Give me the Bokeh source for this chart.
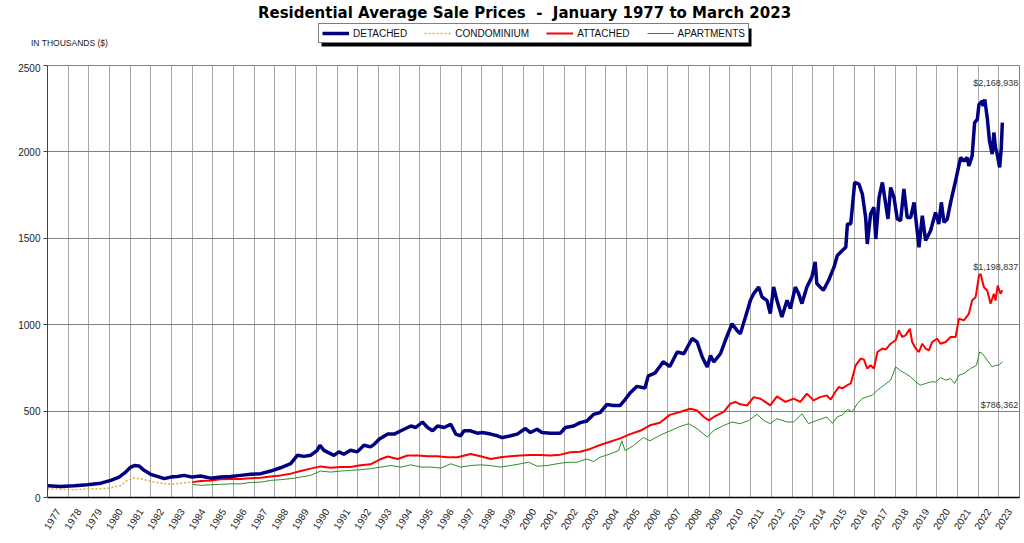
from bokeh.plotting import figure
from bokeh.layouts import column
from bokeh.models import FixedTicker, Label, Legend, LegendItem, BoxAnnotation, Range1d
from bokeh.embed import file_html
from bokeh.resources import INLINE

# values, in thousands of dollars, (decimal year, value)
detached = [
    (1977.00, 68), (1977.64, 64), (1978.29, 68), (1978.93, 74), (1979.58, 83), (1980.06, 99),
    (1980.46, 118), (1980.78, 147), (1981.03, 176), (1981.20, 185), (1981.43, 182), (1981.67, 157),
    (1981.99, 134), (1982.31, 122), (1982.64, 109), (1982.96, 118), (1983.28, 122), (1983.60, 128),
    (1984.00, 118), (1984.41, 124), (1984.89, 112), (1985.37, 118), (1985.86, 122), (1986.34, 128),
    (1986.82, 134), (1987.31, 138), (1987.79, 153), (1988.27, 172), (1988.76, 196), (1989.08, 244),
    (1989.40, 238), (1989.72, 244), (1990.04, 273), (1990.17, 302), (1990.37, 273), (1990.61, 258),
    (1990.85, 244), (1991.09, 264), (1991.33, 250), (1991.65, 273), (1991.98, 264), (1992.30, 302),
    (1992.62, 293), (1992.81, 309), (1993.05, 338), (1993.45, 367), (1993.77, 367), (1994.09, 386),
    (1994.57, 414), (1994.81, 405), (1995.13, 437), (1995.38, 405), (1995.62, 386), (1995.86, 414),
    (1996.18, 405), (1996.50, 424), (1996.74, 367), (1996.98, 357), (1997.14, 386), (1997.46, 386),
    (1997.78, 372), (1998.02, 376), (1998.43, 367), (1998.75, 357), (1998.99, 347), (1999.39, 357),
    (1999.71, 367), (2000.11, 399), (2000.35, 376), (2000.67, 395), (2000.91, 376), (2001.31, 372),
    (2001.80, 372), (2002.04, 405), (2002.44, 414), (2002.76, 433), (2003.08, 443), (2003.40, 481),
    (2003.72, 491), (2004.04, 538), (2004.36, 533), (2004.69, 533), (2004.93, 567), (2005.17, 605),
    (2005.49, 643), (2005.89, 634), (2006.05, 704), (2006.37, 720), (2006.61, 758), (2006.77, 786),
    (2007.09, 758), (2007.45, 842), (2007.77, 832), (2008.17, 920), (2008.41, 900), (2008.66, 813),
    (2008.90, 755), (2009.06, 822), (2009.22, 784), (2009.54, 832), (2009.78, 910), (2010.10, 1006),
    (2010.34, 967), (2010.50, 948), (2010.75, 1045), (2010.99, 1141), (2011.15, 1180), (2011.39, 1218),
    (2011.55, 1160), (2011.79, 1141), (2011.95, 1064), (2012.11, 1218), (2012.27, 1141), (2012.51, 1045),
    (2012.76, 1141), (2012.92, 1093), (2013.16, 1218), (2013.32, 1180), (2013.48, 1122), (2013.72, 1218),
    (2013.96, 1276), (2014.12, 1363), (2014.20, 1238), (2014.36, 1218), (2014.52, 1199), (2014.77, 1257),
    (2015.03, 1333), (2015.19, 1400), (2015.43, 1429), (2015.60, 1448), (2015.68, 1583), (2015.84, 1583),
    (2016.03, 1823), (2016.24, 1813), (2016.40, 1756), (2016.56, 1621), (2016.64, 1467), (2016.80, 1640),
    (2016.96, 1679), (2017.05, 1496), (2017.21, 1737), (2017.37, 1823), (2017.53, 1698), (2017.64, 1612),
    (2017.77, 1794), (2017.93, 1737), (2018.09, 1612), (2018.25, 1602), (2018.41, 1785), (2018.57, 1621),
    (2018.74, 1621), (2018.90, 1708), (2019.14, 1448), (2019.30, 1631), (2019.46, 1487), (2019.70, 1544),
    (2019.94, 1650), (2020.10, 1583), (2020.22, 1708), (2020.35, 1592), (2020.51, 1612), (2020.67, 1708),
    (2020.91, 1833), (2021.15, 1967), (2021.31, 1948), (2021.47, 1967), (2021.55, 1919), (2021.71, 1977),
    (2021.83, 2169), (2021.96, 2188), (2022.04, 2275), (2022.20, 2294), (2022.24, 2265), (2022.32, 2304),
    (2022.44, 2198), (2022.55, 2063), (2022.68, 1987), (2022.76, 2112), (2022.84, 2025), (2022.92, 1987),
    (2023.04, 1910), (2023.12, 2025), (2023.17, 2169),
]

condominium = [
    (1977.00, 50), (1977.64, 48), (1978.29, 45), (1978.93, 50), (1979.58, 50), (1980.06, 56),
    (1980.54, 70), (1980.86, 99), (1981.19, 114), (1981.51, 109), (1981.99, 93), (1982.48, 83),
    (1982.96, 76), (1983.44, 83), (1984.00, 89),
]

attached = [
    (1984.00, 89), (1984.41, 95), (1984.89, 99), (1985.37, 105), (1985.86, 107), (1986.34, 107),
    (1986.82, 112), (1987.31, 114), (1987.79, 122), (1988.27, 128), (1988.76, 138), (1989.24, 153),
    (1989.72, 167), (1990.20, 180), (1990.69, 172), (1991.17, 176), (1991.65, 176), (1992.14, 186),
    (1992.62, 192), (1993.13, 223), (1993.45, 237), (1993.93, 223), (1994.41, 243), (1994.89, 243),
    (1995.38, 239), (1995.86, 239), (1996.34, 233), (1996.82, 233), (1997.46, 252), (1997.94, 239),
    (1998.43, 223), (1998.91, 233), (1999.39, 239), (1999.87, 243), (2000.35, 246), (2000.83, 246),
    (2001.31, 243), (2001.80, 248), (2002.28, 262), (2002.76, 265), (2003.24, 281), (2003.72, 304),
    (2004.20, 323), (2004.69, 342), (2005.17, 367), (2005.65, 386), (2006.13, 418), (2006.61, 433),
    (2007.09, 478), (2007.57, 495), (2008.09, 514), (2008.41, 504), (2008.74, 466), (2008.98, 446),
    (2009.22, 466), (2009.70, 495), (2010.02, 543), (2010.26, 553), (2010.50, 539), (2010.83, 533),
    (2011.15, 581), (2011.47, 572), (2011.95, 533), (2012.27, 585), (2012.68, 553), (2013.08, 572),
    (2013.40, 553), (2013.72, 601), (2014.04, 562), (2014.36, 581), (2014.68, 591), (2014.87, 567),
    (2015.10, 612), (2015.27, 640), (2015.43, 631), (2015.68, 650), (2015.84, 660), (2016.08, 765),
    (2016.32, 804), (2016.48, 798), (2016.64, 746), (2016.80, 765), (2016.96, 746), (2017.13, 842),
    (2017.37, 862), (2017.53, 856), (2017.77, 890), (2018.01, 910), (2018.17, 967), (2018.33, 929),
    (2018.49, 938), (2018.70, 977), (2018.81, 900), (2018.98, 862), (2019.14, 842), (2019.30, 890),
    (2019.46, 862), (2019.62, 852), (2019.78, 900), (2020.02, 919), (2020.18, 890), (2020.43, 900),
    (2020.67, 929), (2020.91, 929), (2021.07, 1035), (2021.31, 1025), (2021.55, 1063), (2021.71, 1140),
    (2021.88, 1160), (2022.04, 1285), (2022.12, 1294), (2022.28, 1217), (2022.44, 1198), (2022.60, 1121),
    (2022.76, 1179), (2022.84, 1140), (2022.95, 1227), (2023.08, 1179), (2023.17, 1199),
]

apartments = [
    (1984.00, 76), (1984.41, 70), (1984.89, 74), (1985.37, 76), (1985.86, 79), (1986.34, 79),
    (1986.82, 87), (1987.31, 89), (1987.79, 99), (1988.27, 103), (1988.76, 109), (1989.24, 118),
    (1989.72, 128), (1990.20, 153), (1990.69, 147), (1991.17, 153), (1991.65, 157), (1992.14, 161),
    (1992.62, 167), (1993.13, 176), (1993.61, 185), (1994.09, 176), (1994.57, 189), (1995.05, 176),
    (1995.54, 176), (1996.02, 170), (1996.50, 195), (1996.98, 176), (1997.46, 185), (1997.94, 189),
    (1998.43, 185), (1998.91, 176), (1999.39, 185), (1999.87, 195), (2000.27, 204), (2000.67, 181),
    (2001.15, 185), (2001.64, 195), (2002.12, 204), (2002.60, 204), (2003.08, 223), (2003.40, 208),
    (2003.72, 233), (2004.20, 252), (2004.61, 271), (2004.77, 328), (2004.93, 271), (2005.33, 300),
    (2005.81, 347), (2006.13, 328), (2006.61, 360), (2007.09, 385), (2007.57, 410), (2008.01, 427),
    (2008.41, 398), (2008.90, 350), (2009.22, 388), (2009.70, 417), (2010.10, 437), (2010.50, 427),
    (2010.91, 446), (2011.31, 481), (2011.63, 446), (2011.95, 427), (2012.27, 456), (2012.76, 437),
    (2013.08, 437), (2013.48, 485), (2013.80, 427), (2014.20, 446), (2014.68, 466), (2014.95, 429),
    (2015.19, 467), (2015.43, 477), (2015.68, 510), (2015.92, 496), (2016.16, 544), (2016.40, 573),
    (2016.64, 583), (2016.88, 592), (2017.13, 621), (2017.45, 650), (2017.77, 679), (2018.01, 756),
    (2018.25, 733), (2018.49, 717), (2018.74, 698), (2018.98, 669), (2019.22, 650), (2019.46, 660),
    (2019.70, 669), (2019.94, 669), (2020.19, 694), (2020.43, 679), (2020.67, 688), (2020.86, 660),
    (2021.07, 708), (2021.31, 717), (2021.63, 746), (2021.92, 765), (2022.07, 842), (2022.20, 833),
    (2022.44, 794), (2022.68, 756), (2022.84, 765), (2023.00, 765), (2023.17, 786),
]

years = list(range(1977, 2024))
y_ticks = [0, 500, 1000, 1500, 2000, 2500]
end_labels = ["$2,168,938", "$1,198,837", "$786,362"]
series_names = ["DETACHED", "CONDOMINIUM", "ATTACHED", "APARTMENTS"]
units_note = "IN THOUSANDS ($)"

FONT = "Liberation Sans"
COLORS = {"DETACHED": "#000080", "CONDOMINIUM": "#E8A83A", "ATTACHED": "#FF0000", "APARTMENTS": "#2E8B2E"}
WIDTHS = {"DETACHED": 3.5, "CONDOMINIUM": 1.5, "ATTACHED": 2, "APARTMENTS": 1}
DASHES = {"DETACHED": "solid", "CONDOMINIUM": "2 2", "ATTACHED": "solid", "APARTMENTS": "solid"}
DATA = {"DETACHED": detached, "CONDOMINIUM": condominium, "ATTACHED": attached, "APARTMENTS": apartments}

def xy(series):
    return [t for t, v in series], [v for t, v in series]

# ---- header strip: title, legend, units note (x in page pixels, y = 63 - page y) ----
head = figure(width=1024, height=63, x_range=Range1d(47, 1019), y_range=Range1d(16, 63),
              output_backend="svg", toolbar_location=None, title=None,
              x_axis_location="below", y_axis_location=None,
              min_border_left=47, min_border_right=5, min_border_top=0, min_border_bottom=16)
head.grid.visible = False
head.outline_line_color = None
# the units note sits left of the frame, so it is carried by the header's own x axis
head.xaxis.ticker = FixedTicker(ticks=[69])
head.xaxis.major_label_overrides = {69: units_note}
head.xaxis.major_label_standoff = -16
head.xaxis.major_tick_line_color = None
head.xaxis.minor_tick_line_color = None
head.xaxis.axis_line_color = None
head.xaxis.major_label_text_font = FONT
head.xaxis.major_label_text_font_size = "8.5px"
head.xaxis.major_label_text_color = "#222222"

head.add_layout(Label(x=524, y=51,
                      text="Residential Average Sale Prices\u00a0 -\u00a0 January 1977 to March 2023",
                      text_align="center", text_baseline="middle", text_color="black",
                      text_font="DejaVu Sans", text_font_style="bold", text_font_size="15px"))
head.add_layout(BoxAnnotation(left=321, right=751, bottom=17, top=35,
                              fill_color="black", fill_alpha=1, line_color=None))
items = []
for name in series_names:
    # same series drawn in the header only to give the legend its glyphs (outside the visible range)
    x, y = xy(DATA[name])
    r = head.line(x, y, line_color=COLORS[name], line_width=WIDTHS[name], line_dash=DASHES[name])
    items.append(LegendItem(label=name, renderers=[r]))
legend = Legend(items=items, location=(271, 4), orientation="horizontal",
                border_line_color="black", border_line_width=1,
                background_fill_color="white", background_fill_alpha=1,
                padding=3, spacing=17, margin=0, glyph_width=27, glyph_height=12,
                label_height=12, label_standoff=4,
                label_text_font=FONT, label_text_font_size="10px", label_text_color="#111111")
head.add_layout(legend)

# ---- main chart ----
p = figure(width=1024, height=480, title=None,
           x_range=Range1d(1977, 2024), y_range=Range1d(0, 2500),
           output_backend="svg", toolbar_location=None,
           min_border_left=47, min_border_right=5, min_border_top=2, min_border_bottom=46)
p.background_fill_color = "white"
p.outline_line_color = "#808080"

for name in ["APARTMENTS", "ATTACHED", "CONDOMINIUM", "DETACHED"]:
    x, y = xy(DATA[name])
    p.line(x, y, line_color=COLORS[name], line_width=WIDTHS[name], line_dash=DASHES[name])

# axes
p.xaxis.ticker = FixedTicker(ticks=[yr + 0.5 for yr in years])
p.xaxis.major_label_overrides = {yr + 0.5: str(yr) for yr in years}
p.xaxis.major_label_orientation = 1.0
p.xaxis.major_label_standoff = 6
p.xaxis.major_tick_line_color = None
p.xaxis.minor_tick_line_color = None
p.xaxis.axis_line_color = "black"
p.xaxis.axis_line_width = 1.5
p.xaxis.major_label_text_font = FONT
p.xaxis.major_label_text_font_size = "10px"
p.xaxis.major_label_text_color = "#222222"

p.yaxis.ticker = FixedTicker(ticks=y_ticks)
p.yaxis.minor_tick_line_color = None
p.yaxis.major_tick_in = 0
p.yaxis.major_tick_out = 4
p.yaxis.major_tick_line_color = "#444444"
p.yaxis.axis_line_color = "#444444"
p.yaxis.major_label_standoff = 3
p.yaxis.major_label_text_font = FONT
p.yaxis.major_label_text_font_size = "10px"
p.yaxis.major_label_text_color = "#222222"

p.xgrid.ticker = FixedTicker(ticks=years)
p.xgrid.grid_line_color = "#A8A8A8"
p.ygrid.ticker = FixedTicker(ticks=y_ticks)
p.ygrid.grid_line_color = "#808080"

# latest values at the right end of each line
for series, text, dy in zip([detached, attached, apartments], end_labels, [40, 23, -43]):
    t, v = series[-1]
    p.add_layout(Label(x=t, y=v, text=text, x_offset=16, y_offset=dy,
                       text_align="right", text_baseline="middle",
                       text_font=FONT, text_font_size="9px", text_color="#333333"))

layout = column(head, p)
open("out.html", "w").write(file_html(layout, INLINE))
